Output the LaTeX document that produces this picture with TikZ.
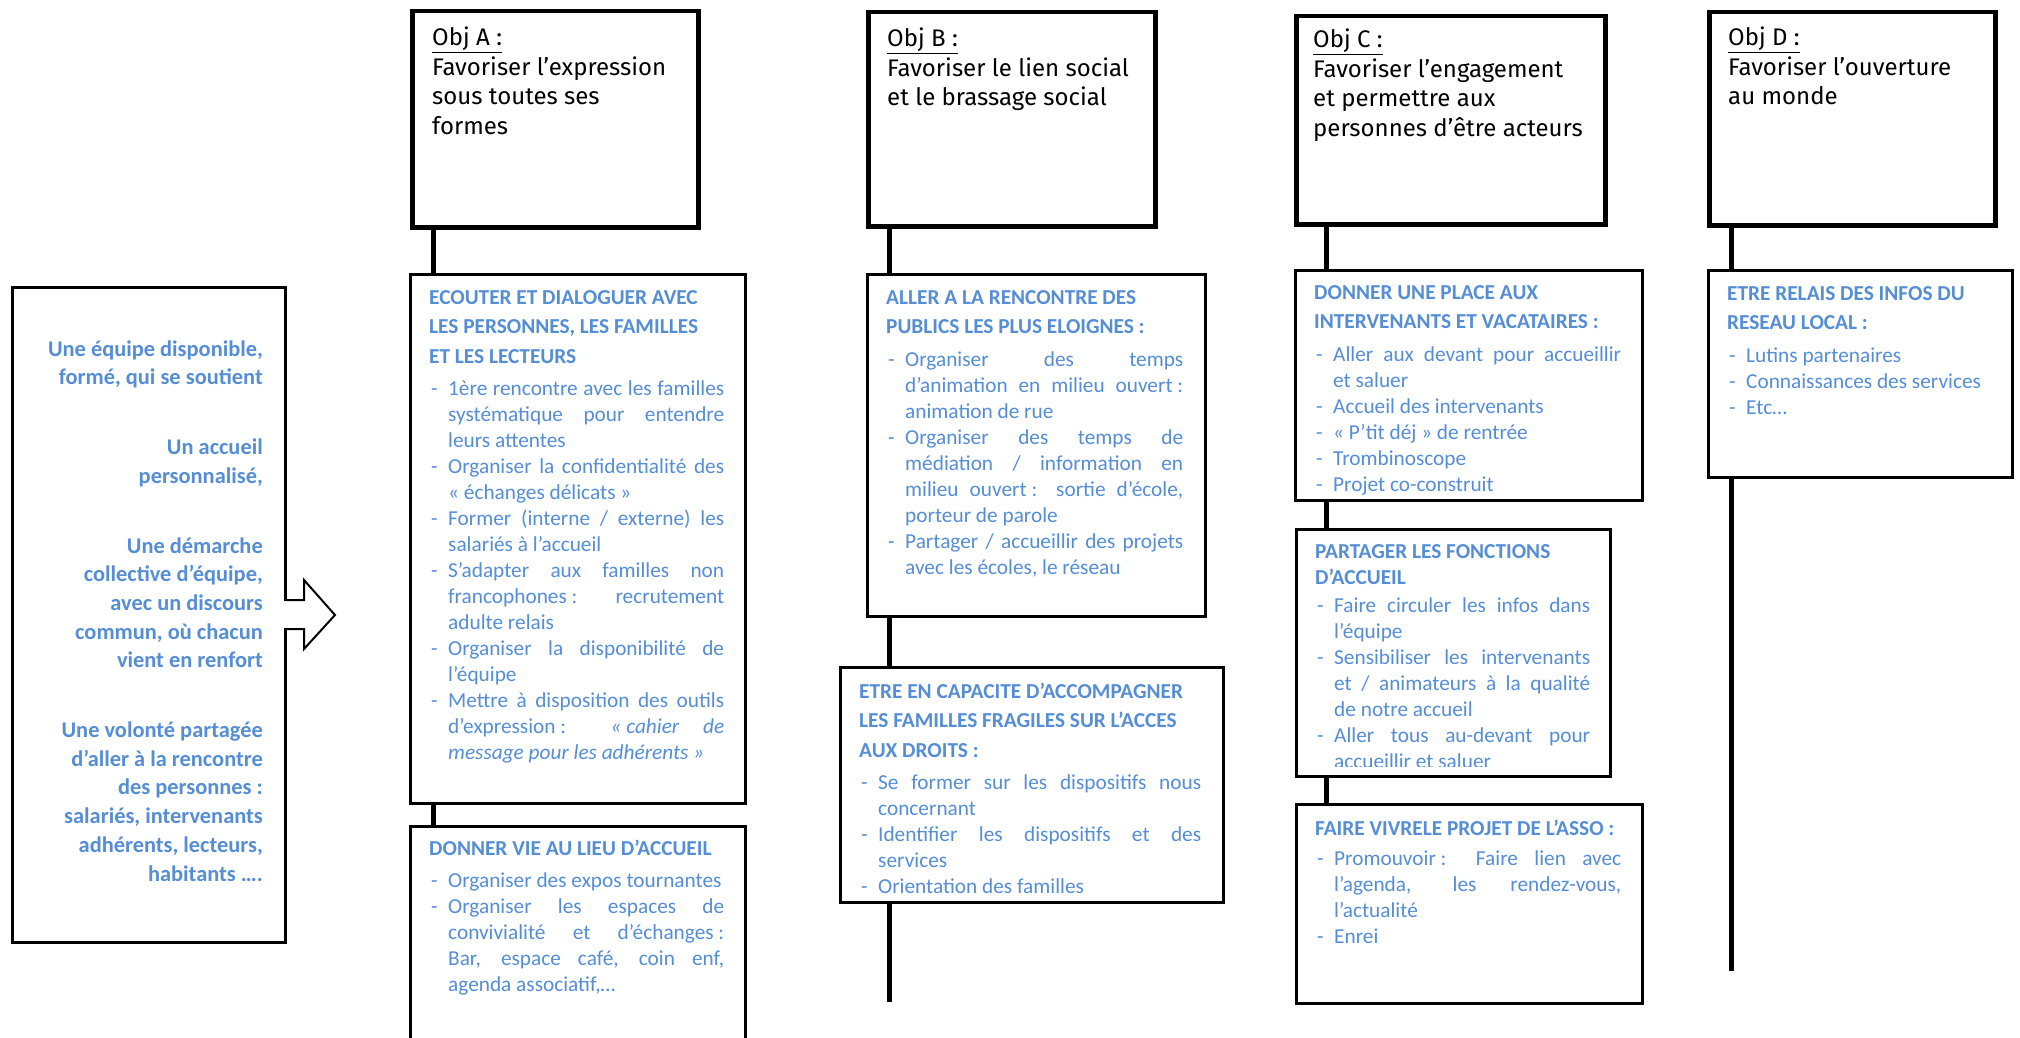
\documentclass[tikz,border=0pt]{standalone}
\usepackage{fontspec}
\setmainfont{Carlito}
\newfontfamily\dinfont{Fira Sans}
\definecolor{tblue}{RGB}{85,142,213}
\hyphenpenalty=10000
\exhyphenpenalty=10000
\tolerance=10000
\hbadness=10000
\hfuzz=30pt
\newcommand\tallstrut{\leavevmode\vrule height 18pt depth 0pt width 0pt\relax}
\newcommand\hd[2][29.5]{{\fontsize{21.3}{#1}\selectfont\bfseries\tallstrut #2\par}}
\newcommand\itm[1]{\par\noindent\hangindent=19pt\hangafter=1\makebox[19pt][l]{\hspace{2pt}-}#1\par}
\newcommand\gap[1][6.5pt]{\vspace{#1}}
\newcommand\nb{\kern0.226em}
\newcommand\bx[6]{\node[#1, minimum width={(#5-#3)*1pt}, minimum height={(#6-#4)*1pt}] (#2) at (#3,#4) {};}
\tikzset{
 objbox/.style={draw=black, line width=4.5pt, fill=white, inner sep=0pt, anchor=north west},
 subbox/.style={draw=black, line width=2.5pt, fill=white, inner sep=0pt, anchor=north west},
 conn/.style={line width=5pt, draw=black},
 bodytxt/.style={inner sep=0pt, anchor=north west, text=tblue, align=justify,
   font=\fontsize{21.3}{26}\selectfont},
 objtxt/.style={inner sep=0pt, anchor=north west, text=black, align=left, font=\dinfont\fontsize{24}{29.5}\selectfont},
 lefttxt/.style={inner sep=0pt, anchor=north east, text=tblue, align=right, font=\fontsize{22.4}{28.7}\selectfont\bfseries},
}
\begin{document}
\begin{tikzpicture}[x=1pt,y=-1pt]
\useasboundingbox (0,0) rectangle (2020,1038);
\clip (0,0) rectangle (2020,1038);
\fill[white] (0,0) rectangle (2020,1038);

\coordinate (xA) at (433,0);
\coordinate (xB) at (889,0);
\coordinate (xC) at (1326,0);
\coordinate (xD) at (1731,0);
\coordinate (endB) at (889,1002);
\coordinate (endD) at (1731,971);

% left box and arrow
\bx{subbox}{leftbox}{11}{286}{284}{941}
\fill[white] (281,601) rectangle (292,628);
\draw[line width=2pt, line join=miter] (285,600) -- (304,600) -- (304,580) -- (335,615) -- (304,649) -- (304,629) -- (285,629);
\node[lefttxt] (ltxt) at (263,338) {\tallstrut Une équipe disponible,\\ formé, qui se soutient\\[41pt] Un accueil\\ personnalisé,\\[41pt] Une démarche\\ collective d’équipe,\\ avec un discours\\ commun, où chacun\\ vient en renfort\\[41pt] Une volonté partagée\\ d’aller à la rencontre\\ des personnes :\\ salariés, intervenants\\ adhérents, lecteurs,\\ habitants ….};

% objective boxes
\bx{objbox}{objA}{410}{9}{696}{225}
\bx{objbox}{objB}{866}{10}{1153}{224}
\bx{objbox}{objC}{1294}{14}{1603}{222}
\bx{objbox}{objD}{1707}{10}{1993}{223}

% sub boxes
\bx{subbox}{ecouter}{409}{273}{744}{802}
\bx{subbox}{donnervie}{409}{825}{744}{1060}
\bx{subbox}{aller}{866}{273}{1204}{615}
\bx{subbox}{etrecap}{839}{666}{1222}{901}
\bx{subbox}{donnerplace}{1294}{269}{1641}{499}
\bx{subbox}{partager}{1295}{528}{1609}{775}
\bx{subbox}{faire}{1295}{803}{1641}{1002}
\bx{subbox}{relais}{1707}{269}{2011}{476}

% connectors
\draw[conn] (objA.south -| xA) -- (ecouter.north -| xA);
\draw[conn] (ecouter.south -| xA) -- (donnervie.north -| xA);
\draw[conn] (objB.south -| xB) -- (aller.north -| xB);
\draw[conn] (aller.south -| xB) -- (etrecap.north -| xB);
\draw[conn] (etrecap.south -| xB) -- (endB);
\draw[conn] (objC.south -| xC) -- (donnerplace.north -| xC);
\draw[conn] (donnerplace.south -| xC) -- (partager.north -| xC);
\draw[conn] (partager.south -| xC) -- (faire.north -| xC);
\draw[conn] (objD.south -| xD) -- (relais.north -| xD);
\draw[conn] (relais.south -| xD) -- (endD);

% objective titles
\node[objtxt] (tA) at (432,27) {\tallstrut\underline{Obj A :}\\ Favoriser l’expression\\ sous toutes ses\\ formes};
\node[objtxt] (tB) at (887,28) {\tallstrut\underline{Obj B :}\\ Favoriser le lien social\\ et le brassage social};
\node[objtxt] (tC) at (1313,29) {\tallstrut\underline{Obj C :}\\ Favoriser l’engagement\\ et permettre aux\\ personnes d’être acteurs};
\node[objtxt] (tD) at (1728,27) {\tallstrut\underline{Obj D :}\\ Favoriser l’ouverture\\ au monde};

% box texts
\node[bodytxt, text width=295pt] (tecouter) at (429,286) {%
\hd{ECOUTER ET DIALOGUER AVEC\\ LES PERSONNES, LES FAMILLES\\ ET LES LECTEURS}\gap
\itm{1ère rencontre avec les familles\linebreak systématique pour entendre\linebreak leurs attentes}
\itm{Organiser la confidentialité des\linebreak «\nb échanges délicats\nb»}
\itm{Former (interne / externe) les\linebreak salariés à l’accueil}
\itm{S’adapter aux familles non\linebreak francophones\nb: recrutement\linebreak adulte relais}
\itm{Organiser la disponibilité de\linebreak l’équipe}
\itm{Mettre à disposition des outils\linebreak d’expression\nb: \textit{«\nb cahier de\linebreak message pour les adhérents\nb»}}};

\node[bodytxt, text width=295pt] (tdonnervie) at (429,837) {%
\hd{DONNER VIE AU LIEU D’ACCUEIL}\gap
\itm{Organiser des expos tournantes}
\itm{Organiser les espaces de\linebreak convivialité et d’échanges\nb:\linebreak Bar, espace café, coin enf,\linebreak agenda associatif,…}};

\node[bodytxt, text width=297pt] (taller) at (886,286) {%
\hd{ALLER A LA RENCONTRE DES\\ PUBLICS LES PLUS ELOIGNES :}\gap
\itm{Organiser des temps\linebreak d’animation en milieu ouvert\nb:\linebreak animation de rue}
\itm{Organiser des temps de\linebreak médiation / information en\linebreak milieu ouvert\nb: sortie d’école,\linebreak porteur de parole}
\itm{Partager / accueillir des projets\linebreak avec les écoles, le réseau}};

\node[bodytxt, text width=342pt] (tetrecap) at (859,680) {%
\hd{ETRE EN CAPACITE D’ACCOMPAGNER\\ LES FAMILLES FRAGILES SUR L’ACCES\\ AUX DROITS :}\gap
\itm{Se former sur les dispositifs nous\linebreak concernant}
\itm{Identifier les dispositifs et des\linebreak services}
\itm{Orientation des familles}};

\begin{scope}
\clip (1296,271) rectangle (1639,494);
\node[bodytxt, text width=307pt] (tdonnerplace) at (1314,281) {%
\hd{DONNER UNE PLACE AUX\\ INTERVENANTS ET VACATAIRES :}\gap
\itm{Aller aux devant pour accueillir\linebreak et saluer}
\itm{Accueil des intervenants}
\itm{«\nb P’tit déj\nb» de rentrée}
\itm{Trombinoscope}
\itm{Projet co-construit}};
\end{scope}

\begin{scope}
\clip (1297,530) rectangle (1607,766);
\node[bodytxt, text width=275pt] (tpartager) at (1315,540) {%
\hd[26.5]{PARTAGER LES FONCTIONS\\ D’ACCUEIL}\gap[2pt]
\itm{Faire circuler les infos dans\linebreak l’équipe}
\itm{Sensibiliser les intervenants\linebreak et / animateurs à la qualité\linebreak de notre accueil}
\itm{Aller tous au-devant pour\linebreak accueillir et saluer}};
\end{scope}

\node[bodytxt, text width=306pt] (tfaire) at (1315,817) {%
\hd{FAIRE VIVRELE PROJET DE L’ASSO :}\gap[4pt]
\itm{Promouvoir\nb: Faire lien avec\linebreak l’agenda, les rendez-vous,\linebreak l’actualité}
\itm{Enrei}};

\node[bodytxt, text width=270pt] (trelais) at (1727,282) {%
\hd{ETRE RELAIS DES INFOS DU\\ RESEAU LOCAL :}\gap
\itm{Lutins partenaires}
\itm{Connaissances des services}
\itm{Etc…}};

\end{tikzpicture}
\end{document}
